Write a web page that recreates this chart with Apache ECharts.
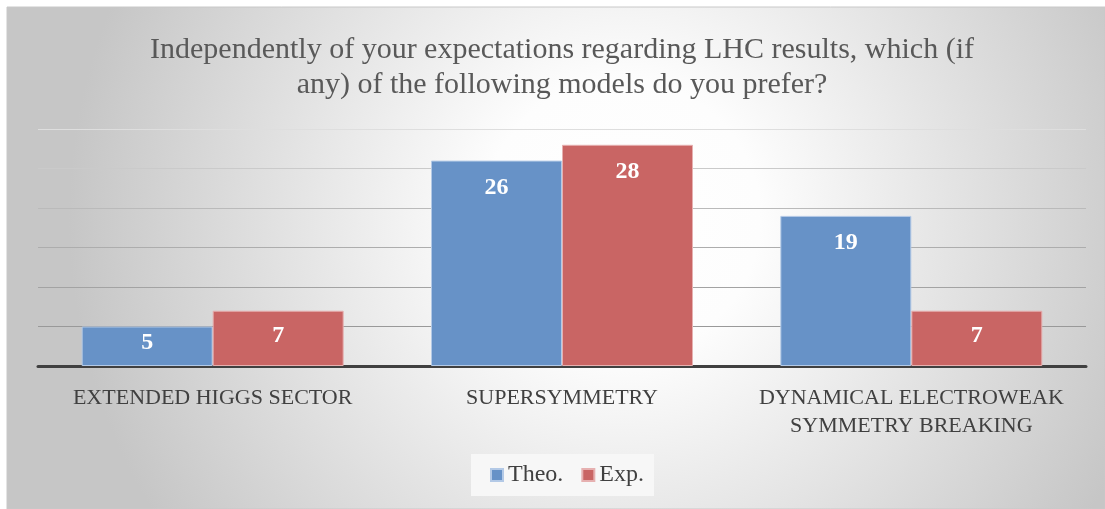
<!DOCTYPE html>
<html>
<head>
<meta charset="utf-8">
<script src="https://cdn.jsdelivr.net/npm/echarts@6/dist/echarts.min.js"></script>
<style>
  html, body { margin: 0; padding: 0; background: #fff; }
  #chart { width: 1105px; height: 509px; }
</style>
</head>
<body>
<div id="chart"></div>
<script>
const categories = ['EXTENDED HIGGS SECTOR', 'SUPERSYMMETRY', 'DYNAMICAL ELECTROWEAK\nSYMMETRY BREAKING'];
const theoValues = [5, 26, 19];
const expValues = [7, 28, 7];
const seriesNames = ['Theo.', 'Exp.'];

const serif = '"Liberation Serif", "DejaVu Serif", serif';
const chart = echarts.init(document.getElementById('chart'));

// short bars get their label centred, like the original
function barData(values) {
  return values.map(v => v < 8 ? { value: v, label: { position: 'inside', offset: [0, -3] } } : v);
}

const labelStyle = {
  show: true,
  position: 'insideTop',
  distance: 15,
  color: '#fff',
  fontFamily: serif,
  fontWeight: 'bold',
  fontSize: 24
};

chart.setOption({
  backgroundColor: '#fff',
  animation: false,
  graphic: [{
    type: 'rect',
    z: -10,
    silent: true,
    shape: { x: 7, y: 7, width: 1098, height: 502 },
    style: {
      fill: new echarts.graphic.RadialGradient(0.56, 0.42, 1.1, [
        { offset: 0, color: '#ffffff' },
        { offset: 0.25, color: '#fdfdfd' },
        { offset: 1, color: '#c6c6c6' }
      ]),
      stroke: '#c8c8c8',
      lineWidth: 1
    }
  }],
  title: {
    text: 'Independently of your expectations regarding LHC results, which (if\nany) of the following models do you prefer?',
    left: 557,
    top: 28,
    textAlign: 'center',
    textStyle: {
      fontFamily: serif,
      fontWeight: 'normal',
      fontSize: 30,
      lineHeight: 35,
      color: '#595959'
    }
  },
  legend: {
    data: seriesNames,
    left: 471,
    top: 454,
    padding: [9, 10, 9, 19],
    backgroundColor: '#f7f7f7',
    itemWidth: 12,
    itemHeight: 12,
    itemGap: 18,
    icon: 'rect',
    textStyle: { fontFamily: serif, fontSize: 24, color: '#404040' }
  },
  grid: { left: 38, right: 19, top: 129, bottom: 143 },
  xAxis: {
    type: 'category',
    data: categories,
    axisLine: { lineStyle: { color: '#404040', width: 3 } },
    axisTick: { show: false },
    axisLabel: {
      fontFamily: serif,
      fontSize: 22,
      lineHeight: 28,
      color: '#404040',
      margin: 18,
      interval: 0
    }
  },
  yAxis: {
    type: 'value',
    min: 0,
    max: 30,
    interval: 5,
    axisLabel: { show: false },
    axisLine: { show: false },
    axisTick: { show: false },
    splitLine: {
      lineStyle: {
        color: ['#999999', '#999999', '#a3a3a3', '#adadad', '#bababa', '#cacaca', '#dedede'],
        width: 1
      }
    }
  },
  series: [
    {
      name: seriesNames[0],
      type: 'bar',
      data: barData(theoValues),
      barGap: '0%',
      barCategoryGap: '25%',
      itemStyle: { color: '#6792c7', borderColor: '#b3c9e6', borderWidth: 1 },
      label: labelStyle
    },
    {
      name: seriesNames[1],
      type: 'bar',
      data: barData(expValues),
      itemStyle: { color: '#c96564', borderColor: '#e6b0b0', borderWidth: 1 },
      label: labelStyle
    }
  ]
});
</script>
</body>
</html>
